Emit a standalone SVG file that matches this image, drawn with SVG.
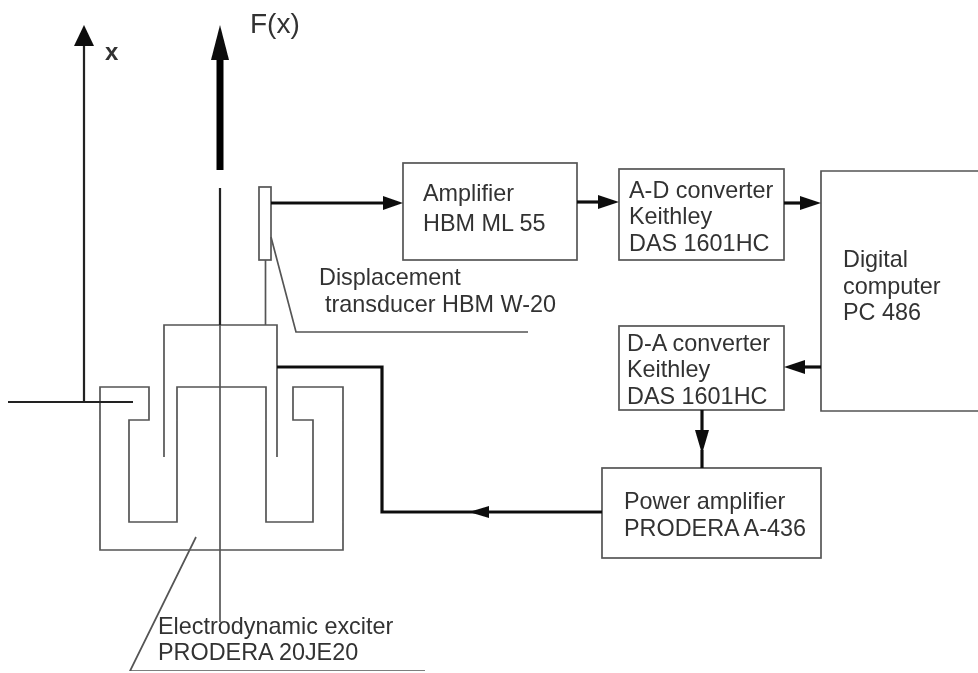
<svg xmlns="http://www.w3.org/2000/svg" width="978" height="673" viewBox="0 0 978 673">
<defs><filter id="soft" x="0" y="0" width="100%" height="100%"><feGaussianBlur stdDeviation="0.45"/></filter></defs>
<style>
text{font-family:"Liberation Sans",Arial,sans-serif;font-size:23.4px;fill:#333}
.box{fill:none;stroke:#555;stroke-width:1.7}
.thin{fill:none;stroke:#555;stroke-width:1.7}
.dark{fill:none;stroke:#222;stroke-width:2.2}
.sig{fill:none;stroke:#111;stroke-width:3.2}
.head{fill:#111;stroke:none}
</style>
<rect width="978" height="673" fill="#fff"/>
<g filter="url(#soft)">
<g id="exciter">
<path class="thin" d="M100 387H149V420H129V522H177V387H266V522H313V420H293V387H343V550H100Z"/>
<path class="thin" d="M164 457V325H277V457"/>
<text x="158" y="634">Electrodynamic exciter</text>
<text x="158" y="660">PRODERA 20JE20</text>
</g>
<g id="transducer">
<rect class="box" x="259" y="187" width="12" height="73"/>
<path class="thin" d="M265.500 260V325"/>
<text x="319" y="285">Displacement</text>
<text x="325" y="312">transducer HBM W-20</text>
</g>
<g id="axis-x">
<text x="105" y="60" style="font-size:24px;font-weight:bold">x</text>
</g>
<g id="force">
<text x="250" y="33" style="font-size:28px">F(x)</text>
</g>
<g id="amplifier">
<rect class="box" x="403" y="163" width="174" height="97"/>
<text x="423" y="201">Amplifier</text>
<text x="423" y="231">HBM ML 55</text>
</g>
<g id="ad-converter">
<rect class="box" x="619" y="169" width="165" height="91"/>
<text x="629" y="198">A-D converter</text>
<text x="629" y="224">Keithley</text>
<text x="629" y="251">DAS 1601HC</text>
</g>
<g id="da-converter">
<rect class="box" x="619" y="326" width="165" height="84"/>
<text x="627" y="351">D-A converter</text>
<text x="627" y="377">Keithley</text>
<text x="627" y="404">DAS 1601HC</text>
</g>
<g id="computer">
<path class="box" d="M979 171H821V411H979"/>
<text x="843" y="267">Digital</text>
<text x="843" y="294">computer</text>
<text x="843" y="320">PC 486</text>
</g>
<g id="power-amplifier">
<rect class="box" x="602" y="468" width="219" height="90"/>
<text x="624" y="509">Power amplifier</text>
<text x="624" y="536">PRODERA A-436</text>
</g>
<g id="connectors">
<path class="dark" d="M84 402V45"/>
<path class="head" d="M84 25L94 46H74Z"/>
<path class="dark" d="M8 402H133"/>
<path class="dark" d="M220 188V325"/>
<path class="thin" d="M220 325V622"/>
<path fill="none" stroke="#000" stroke-width="7" d="M220 170V58"/>
<path class="head" d="M220 25L229 60H211Z"/>
<path class="thin" d="M271 237L296 332H528"/>
<path class="thin" d="M196 537L130 671H425"/>
<path class="sig" d="M271 203H385"/><path class="head" d="M403 203L383 196V210Z"/>
<path class="sig" d="M577 202H600"/><path class="head" d="M619 202L598 195V209Z"/>
<path class="sig" d="M784 203H805"/><path class="head" d="M821 203L800 196V210Z"/>
<path class="sig" d="M821 367H800"/><path class="head" d="M784 367L805 360V374Z"/>
<path class="sig" d="M702 410V435"/><path class="head" d="M702 454L695 430H709Z"/>
<path class="sig" d="M702 450V468"/>
<path class="sig" d="M602 512H382V367H277"/><path class="head" d="M469 512L489 506V518Z"/>
</g>
</g>
</svg>
